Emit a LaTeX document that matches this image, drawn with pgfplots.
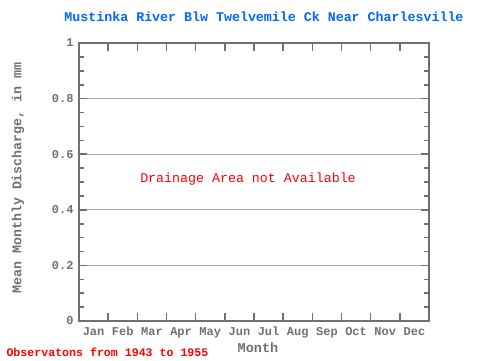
\documentclass[border=0pt]{standalone}
\usepackage{pgfplots}
\pgfplotsset{compat=1.18}
\usepackage{fontspec}
\setmainfont{Liberation Mono}
\setmonofont{Liberation Mono}
\definecolor{axgray}{RGB}{112,112,112}
\definecolor{gridgray}{RGB}{175,175,175}
\definecolor{titleblue}{RGB}{0,102,255}
\begin{document}
\begin{tikzpicture}
\path[use as bounding box] (0pt,0pt) rectangle (480pt,360pt);
\begin{axis}[
  at={(79pt,39pt)}, anchor=south west,
  scale only axis, width=350pt, height=278pt,
  xmin=0, xmax=12, ymin=0, ymax=1,
  axis line style={axgray, line width=1.6pt},
  xtick={1,...,11}, xticklabels={},
  extra x ticks={0.5,1.5,...,11.5},
  extra x tick labels={Jan,Feb,Mar,Apr,May,Jun,Jul,Aug,Sep,Oct,Nov,Dec},
  extra x tick style={major tick length=0pt, tick label style={font=\fontsize{12}{12}\selectfont\bfseries, text=axgray, yshift=-3pt, text height=8pt, text depth=2.5pt}},
  ytick={0,0.2,...,1}, yticklabels={0,0.2,0.4,0.6,0.8,1},
  minor y tick num=3,
  tick style={axgray, line width=1.6pt},
  major tick length=8pt, minor tick length=5pt,
  tick align=inside,
  ymajorgrids, grid style={gridgray, line width=0.8pt},
  yticklabel style={font=\fontsize{12}{12}\selectfont\bfseries, text=axgray, xshift=-2pt},
  xtick pos=both, ytick pos=both,
  /pgf/number format/assume math mode=true,
]
\addplot[draw=none] coordinates {(0,0) (12,1)};
\end{axis}
\node[font=\fontsize{13.3}{14}\selectfont\bfseries, text=titleblue] at (264pt,343pt) {Mustinka River Blw Twelvemile Ck Near Charlesville};
\node[font=\fontsize{13.3}{14}\selectfont, text=red] at (248pt,181pt) {Drainage Area not Available};
\node[font=\fontsize{13.5}{14}\selectfont\bfseries, text=axgray] at (258pt,12pt) {Month};
\node[font=\fontsize{11.6}{12}\selectfont\bfseries, text=red, anchor=west] at (3pt,8pt) {Observatons from 1943 to 1955};
\node[font=\fontsize{13.3}{14}\selectfont\bfseries, text=axgray, rotate=90] at (18pt,182pt) {Mean Monthly Discharge, in mm};
\end{tikzpicture}
\end{document}
